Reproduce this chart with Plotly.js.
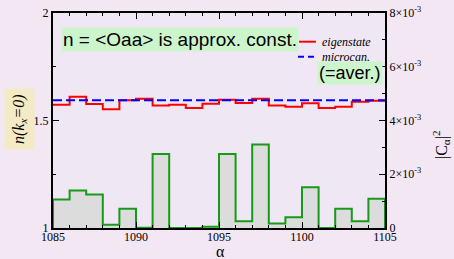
<!DOCTYPE html>
<html>
<head>
<meta charset="utf-8">
<script src="https://cdn.plot.ly/plotly-3.0.1.min.js"></script>
<style>html,body{margin:0;padding:0;background:#f2e7f3;}#chart{width:454px;height:259px;}</style>
</head>
<body>
<div id="chart"></div>
<script>
// bin edges (alpha) and values
const alphaEdges = [1085,1086,1087,1088,1089,1090,1091,1092,1093,1094,1095,1096,1097,1098,1099,1100,1101,1102,1103,1104,1105];
const eigenstate = [1.573,1.611,1.577,1.552,1.594,1.601,1.570,1.573,1.558,1.578,1.597,1.581,1.601,1.570,1.564,1.580,1.558,1.564,1.587,1.592];
const microcan = 1.594;
const cAlpha2 = [1.06e-3,1.40e-3,1.25e-3,0.12e-3,0.72e-3,0.01e-3,2.75e-3,0.0,0.0,0.05e-3,2.75e-3,0.25e-3,3.11e-3,0.17e-3,0.40e-3,1.52e-3,0.0,0.72e-3,0.25e-3,1.09e-3];
const leftTicks = [1, 1.5, 2];
const leftTickText = ['1', '1.5', '2'];
const rightTicks = [0, 0.002, 0.004, 0.006, 0.008];
const rightTickText = ['0', '2×10<sup>-3</sup>', '4×10<sup>-3</sup>', '6×10<sup>-3</sup>', '8×10<sup>-3</sup>'];

// step series: repeat last value at final edge
const stepX = alphaEdges.slice();
const eigY = eigenstate.concat([eigenstate[eigenstate.length-1]]);
const histX = [alphaEdges[0]].concat(alphaEdges, [alphaEdges[alphaEdges.length-1]]);
const histY = [0].concat(cAlpha2, [cAlpha2[cAlpha2.length-1], 0]);

const serif = 'Liberation Serif, Times New Roman, serif';
const sans = 'Liberation Sans, Arial, sans-serif';

const traces = [
  {x: histX, y: histY, yaxis: 'y2', type: 'scatter', mode: 'lines',
   line: {shape: 'hv', color: '#179a17', width: 2}, fill: 'tozeroy', fillcolor: '#dcdcdc',
   showlegend: false, hoverinfo: 'skip'},
  {x: stepX, y: eigY, type: 'scatter', mode: 'lines', name: 'eigenstate',
   line: {shape: 'hv', color: '#ff0000', width: 2}, showlegend: false},
  {x: [alphaEdges[0], alphaEdges[alphaEdges.length-1]], y: [microcan, microcan], type: 'scatter', mode: 'lines',
   name: 'microcan.', line: {color: '#0000ff', width: 2, dash: '9px,4px'}, showlegend: false}
];

const W = 332, H = 215, L = 53, T = 13;
const px = x => (x - L) / W;
const py = y => (T + H - y) / H;

const layout = {
  width: 454, height: 259,
  margin: {l: L, r: 454 - L - W, t: T, b: 259 - T - H, pad: 0},
  paper_bgcolor: '#f2e7f3',
  plot_bgcolor: '#efe8f4',
  showlegend: false,
  xaxis: {
    range: [1085, 1105], showgrid: false, zeroline: false,
    showline: true, linecolor: '#000', linewidth: 2, mirror: 'ticks',
    ticks: 'inside', ticklen: 6, tickwidth: 1, tickcolor: '#000',
    tickvals: [1085, 1090, 1095, 1100, 1105], ticklabelstandoff: -3,
    minor: {dtick: 1, ticks: 'inside', ticklen: 3, tickcolor: '#000', showgrid: false},
    tickfont: {family: serif, size: 12, color: '#000'},
    title: {text: ''}
  },
  yaxis: {
    range: [1, 2], showgrid: false, zeroline: false,
    showline: true, linecolor: '#000', linewidth: 2,
    ticks: 'inside', ticklen: 6, tickwidth: 1, tickcolor: '#000',
    tickvals: leftTicks, ticktext: leftTickText,
    minor: {dtick: 0.25, ticks: 'inside', ticklen: 3, tickcolor: '#000', showgrid: false},
    tickfont: {family: serif, size: 12, color: '#000'}
  },
  yaxis2: {
    overlaying: 'y', side: 'right', range: [0, 0.008], showgrid: false, zeroline: false,
    showline: true, linecolor: '#000', linewidth: 2,
    ticks: 'inside', ticklen: 6, tickwidth: 1, tickcolor: '#000',
    tickvals: rightTicks, ticktext: rightTickText,
    minor: {dtick: 0.001, ticks: 'inside', ticklen: 3, tickcolor: '#000', showgrid: false},
    tickfont: {family: serif, size: 12, color: '#000'}
  },
  shapes: [
    {type: 'line', xref: 'paper', yref: 'paper', x0: px(299), x1: px(316), y0: py(41.7), y1: py(41.7),
     line: {color: '#ff0000', width: 2}},
    {type: 'line', xref: 'paper', yref: 'paper', x0: px(298), x1: px(316), y0: py(56.7), y1: py(56.7),
     line: {color: '#0000ff', width: 2, dash: '6px,4px'}}
  ],
  annotations: [
    {text: 'α', xref: 'paper', yref: 'paper', x: px(220), y: py(251),
     xanchor: 'center', yanchor: 'middle', showarrow: false,
     font: {family: serif, size: 16, color: '#000'}},
    {text: 'n = &lt;Oaa&gt; is approx. const.', xref: 'paper', yref: 'paper', x: px(61), y: py(40),
     xanchor: 'left', yanchor: 'middle', showarrow: false, bgcolor: '#ccf5cc', borderpad: 1,
     font: {family: sans, size: 19, color: '#000'}},
    {text: '(=aver.)', xref: 'paper', yref: 'paper', x: px(350), y: py(72.5),
     xanchor: 'center', yanchor: 'middle', showarrow: false, bgcolor: '#ccf5cc', borderpad: 1,
     font: {family: sans, size: 18, color: '#000'}},
    {text: '<i>eigenstate</i>', xref: 'paper', yref: 'paper', x: px(320), y: py(41.5),
     xanchor: 'left', yanchor: 'middle', showarrow: false,
     font: {family: serif, size: 12, color: '#000'}},
    {text: '<i>microcan.</i>', xref: 'paper', yref: 'paper', x: px(320), y: py(56.5),
     xanchor: 'left', yanchor: 'middle', showarrow: false,
     font: {family: serif, size: 12, color: '#000'}},
    {text: '<i>n(k<sub>x</sub>=0)</i>', xref: 'paper', yref: 'paper', x: px(20), y: py(119),
     xanchor: 'center', yanchor: 'middle', textangle: -90, showarrow: false,
     bgcolor: '#f4ebc6', borderpad: 5,
     font: {family: serif, size: 16, color: '#000'}},
    {text: '|C<sub>α</sub>|<sup>2</sup>', xref: 'paper', yref: 'paper', x: px(441), y: py(145),
     xanchor: 'center', yanchor: 'middle', textangle: -90, showarrow: false,
     font: {family: serif, size: 16, color: '#000'}}
  ]
};

Plotly.newPlot('chart', traces, layout, {displayModeBar: false, staticPlot: true});
</script>
</body>
</html>
